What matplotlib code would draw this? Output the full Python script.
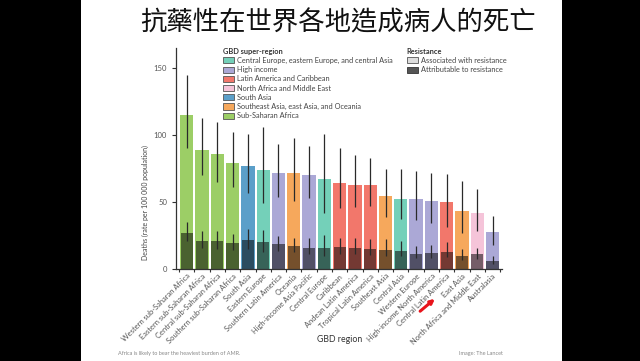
import matplotlib.pyplot as plt
from matplotlib.patches import Patch, Rectangle

# Data
regions = ['Western sub-Saharan Africa', 'Eastern sub-Saharan Africa', 'Central sub-Saharan Africa',
           'Southern sub-Saharan Africa', 'South Asia', 'Eastern Europe', 'Southern Latin America',
           'Oceania', 'High-income Asia Pacific', 'Central Europe', 'Caribbean', 'Andean Latin America',
           'Tropical Latin America', 'Southeast Asia', 'Central Asia', 'Western Europe',
           'High-income North America', 'Central Latin America', 'East Asia',
           'North Africa and Middle East', 'Australasia']
super_region = ['ssa', 'ssa', 'ssa', 'ssa', 'sa', 'ce', 'hi', 'sea', 'hi', 'ce', 'lac', 'lac',
                'lac', 'sea', 'ce', 'hi', 'hi', 'lac', 'sea', 'nme', 'hi']
associated = [115, 89, 86, 79, 77, 74, 72, 71.5, 70.5, 67.5, 64.5, 63, 62.5, 54.5, 52.5, 52,
              50.5, 50, 43, 41.5, 27.5]
assoc_lo = [90, 70, 65, 61, 57, 49, 54, 51, 53, 42, 45.5, 46, 47, 39, 37, 36.5, 34.5, 31, 27, 28.5, 18]
assoc_hi = [145, 113, 110, 102, 101, 106, 93, 98, 92, 101, 90.5, 85, 83, 75, 74.5, 73, 71.5, 71,
            66, 59.5, 39.5]
attributable = [27, 21, 20.5, 19.5, 21.5, 20, 18.5, 17, 16, 16, 16.5, 16, 15, 14.5, 13.5, 11.5,
                12, 13, 10, 11, 6]
attr_lo = [21, 16, 15, 14, 15, 13, 13.5, 12.5, 11.5, 10, 11.5, 11, 10.5, 10, 9.5, 8, 8, 9, 6.5, 7.5, 4]
attr_hi = [35, 28, 28, 26, 30, 29, 24.5, 23, 23, 25, 23, 23, 22, 22, 20.5, 17, 18, 20, 15, 16, 10]

colors = {'ce': '#74d0b9', 'hi': '#aba8d6', 'lac': '#f2776b', 'nme': '#f5c4d9',
          'sa': '#5b9fc9', 'sea': '#f6a85c', 'ssa': '#9cce66'}
sr_names = {'ce': 'Central Europe, eastern Europe, and central Asia', 'hi': 'High income',
            'lac': 'Latin America and Caribbean', 'nme': 'North Africa and Middle East',
            'sa': 'South Asia', 'sea': 'Southeast Asia, east Asia, and Oceania',
            'ssa': 'Sub-Saharan Africa'}

plt.rcParams['font.family'] = ['Lato', 'DejaVu Sans']

fig = plt.figure(figsize=(6.4, 3.61), dpi=100, facecolor='black')
fig.patches.append(Rectangle((81 / 640, 0), (562 - 81) / 640, 1, transform=fig.transFigure,
                             facecolor='white', edgecolor='none', zorder=-5))

ax = fig.add_axes([0.275, 0.255, 0.509, 0.612])
ax.set_facecolor('none')
ax.set_zorder(2)

x = list(range(len(regions)))
bar_cols = [colors[s] for s in super_region]
ax.bar(x, associated, width=0.87, color=bar_cols, zorder=1)
ax.bar(x, attributable, width=0.8, color='black', alpha=0.52, zorder=2)
ax.vlines(x, assoc_lo, assoc_hi, color='#2a2a2a', lw=0.9, zorder=3)
ax.vlines(x, attr_lo, attr_hi, color='#2a2a2a', lw=0.9, zorder=3)

ax.set_xlim(-0.7, 20.6)
ax.set_ylim(0, 165)
ax.set_yticks([0, 50, 100, 150])
for s in ['top', 'right']:
    ax.spines[s].set_visible(False)
for s in ['left', 'bottom']:
    ax.spines[s].set_color('#333333')
    ax.spines[s].set_linewidth(0.9)
ax.tick_params(axis='y', labelsize=5.5, labelcolor='#555555', length=3, width=0.8, color='#333333')
ax.set_xticks(x)
ax.set_xticklabels(regions, rotation=45, ha='right', rotation_mode='anchor')
ax.tick_params(axis='x', which='major', labelsize=5.4, labelcolor='#555555', length=0, pad=2.5)
ax.set_xticks([i - 0.5 for i in range(len(regions) + 1)], minor=True)
ax.tick_params(axis='x', which='minor', length=2.5, width=0.8, color='#333333')

fig.text(145 / 640, 1 - 203 / 361, 'Deaths (rate per 100 000 population)', rotation=90,
         ha='center', va='center', fontsize=5, color='#444444')
fig.text(340 / 640, 1 - 340 / 361, 'GBD region', ha='center', va='center', fontsize=6.3,
         color='#333333')
fig.text(118 / 640, 1 - 353 / 361, 'Africa is likely to bear the heaviest burden of AMR.',
         ha='left', va='center', fontsize=4, color='#888888')
fig.text(503 / 640, 1 - 353 / 361, 'Image: The Lancet', ha='right', va='center', fontsize=4,
         color='#888888')

fig.text(338 / 640, 1 - 23 / 361, '抗藥性在世界各地造成病人的死亡', ha='center', va='center',
         fontsize=19, color='#111111', family=['Noto Sans CJK TC', 'DejaVu Sans'], weight='light')

# Legends
h1 = [Patch(facecolor=colors[k], edgecolor='#555555', linewidth=0.6, label=sr_names[k])
      for k in ['ce', 'hi', 'lac', 'nme', 'sa', 'sea', 'ssa']]
leg1 = fig.legend(handles=h1, title='GBD super-region', loc='upper left',
                  bbox_to_anchor=(219 / 640, 1 - 44 / 361), frameon=False, fontsize=5.3,
                  title_fontsize=5.3, handlelength=1.6, handleheight=0.9, handletextpad=0.3,
                  labelspacing=0.3, borderpad=0, alignment='left')
leg1.get_title().set_weight('bold')
leg1.get_title().set_color('#333333')
for t in leg1.get_texts():
    t.set_color('#444444')

h2 = [Patch(facecolor='#dddddd', edgecolor='#555555', linewidth=0.6, label='Associated with resistance'),
      Patch(facecolor='#555555', edgecolor='#333333', linewidth=0.6, label='Attributable to resistance')]
leg2 = fig.legend(handles=h2, title='Resistance', loc='upper left',
                  bbox_to_anchor=(403 / 640, 1 - 44 / 361), frameon=False, fontsize=5.3,
                  title_fontsize=5.3, handlelength=1.6, handleheight=0.9, handletextpad=0.3,
                  labelspacing=0.3, borderpad=0, alignment='left')
leg2.get_title().set_weight('bold')
leg2.get_title().set_color('#333333')
for t in leg2.get_texts():
    t.set_color('#444444')

ax.annotate('', xy=(437 / 640, 1 - 297 / 361), xytext=(418 / 640, 1 - 313 / 361),
            xycoords='figure fraction', textcoords='figure fraction',
            arrowprops=dict(arrowstyle='-|>', color='#e8141b', lw=2.2, mutation_scale=6),
            annotation_clip=False)

fig.savefig('out.png', dpi=100, facecolor=fig.get_facecolor())
